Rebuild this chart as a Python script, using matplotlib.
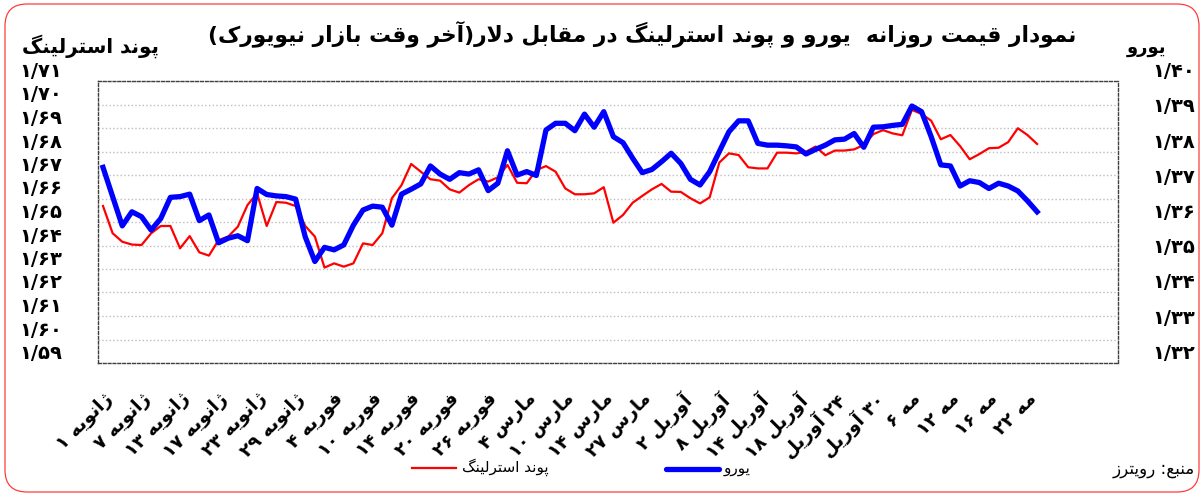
import re
import numpy as np
import matplotlib
matplotlib.use('Agg')
import matplotlib.pyplot as plt
from matplotlib.patches import FancyBboxPatch
from matplotlib.lines import Line2D
from matplotlib.transforms import IdentityTransform

plt.rcParams['font.family'] = ['DejaVu Sans']

# ---- data ----
pound = [1.6568, 1.6452, 1.6416, 1.6404, 1.6402, 1.6452, 1.6483, 1.6483, 1.6388, 1.6440,
         1.6371, 1.6357, 1.6423, 1.6438, 1.6480, 1.6572, 1.6622, 1.6483, 1.6585, 1.6582,
         1.6568, 1.6483, 1.6438, 1.6306, 1.6324, 1.6310, 1.6324, 1.6409, 1.6402, 1.6452,
         1.6601, 1.6657, 1.6747, 1.6714, 1.6682, 1.6676, 1.6639, 1.6625, 1.6657, 1.6682,
         1.6672, 1.6690, 1.6743, 1.6667, 1.6665, 1.6721, 1.6738, 1.6714, 1.6643, 1.6618,
         1.6618, 1.6622, 1.6648, 1.6497, 1.6530, 1.6582, 1.6611, 1.6639, 1.6662, 1.6629,
         1.6628, 1.6601, 1.6579, 1.6605, 1.6753, 1.6792, 1.6785, 1.6733, 1.6728, 1.6728,
         1.6795, 1.6795, 1.6792, 1.6799, 1.6821, 1.6784, 1.6804, 1.6804, 1.6809, 1.6828,
         1.6874, 1.6891, 1.6877, 1.6869, 1.6977, 1.6960, 1.6931, 1.6852, 1.6870, 1.6823,
         1.6767, 1.6789, 1.6814, 1.6816, 1.6840, 1.6899, 1.6870, 1.6832]

euro = [1.3755, 1.3672, 1.3589, 1.3629, 1.3615, 1.3577, 1.3610, 1.3670, 1.3672, 1.3679,
        1.3604, 1.3620, 1.3541, 1.3554, 1.3561, 1.3547, 1.3695, 1.3678, 1.3674, 1.3672,
        1.3665, 1.3558, 1.3488, 1.3528, 1.3521, 1.3535, 1.3591, 1.3634, 1.3645, 1.3642,
        1.3591, 1.3679, 1.3693, 1.3708, 1.3759, 1.3736, 1.3721, 1.3740, 1.3736, 1.3748,
        1.3689, 1.3710, 1.3802, 1.3733, 1.3743, 1.3732, 1.3861, 1.3880, 1.3880, 1.3859,
        1.3906, 1.3869, 1.3913, 1.3842, 1.3825, 1.3781, 1.3740, 1.3749, 1.3771, 1.3795,
        1.3766, 1.3721, 1.3705, 1.3743, 1.3800, 1.3856, 1.3887, 1.3887, 1.3823, 1.3818,
        1.3818, 1.3816, 1.3813, 1.3793, 1.3806, 1.3818, 1.3833, 1.3835, 1.3851, 1.3812,
        1.3869, 1.3870, 1.3874, 1.3877, 1.3929, 1.3913, 1.3842, 1.3762, 1.3759, 1.3702,
        1.3717, 1.3712, 1.3695, 1.3710, 1.3702, 1.3688, 1.3660, 1.3629]

x_labels = ['ژانویه ۱', 'ژانویه ۷', 'ژانویه ۱۳', 'ژانویه ۱۷', 'ژانویه ۲۳', 'ژانویه ۲۹',
            'فوریه ۴', 'فوریه ۱۰', 'فوریه ۱۴', 'فوریه ۲۰', 'فوریه ۲۶',
            'مارس ۴', 'مارس ۱۰', 'مارس ۱۴', 'مارس ۲۷',
            'آوریل ۲', 'آوریل ۸', 'آوریل ۱۴', 'آوریل ۱۸', '۲۴ آوریل', '۳۰ آوریل',
            'مه ۶', 'مه ۱۲', 'مه ۱۶', 'مه ۲۲']
label_step = 4

pound_ticks = [1.59, 1.60, 1.61, 1.62, 1.63, 1.64, 1.65, 1.66, 1.67, 1.68, 1.69, 1.70, 1.71]
euro_ticks = [1.32, 1.33, 1.34, 1.35, 1.36, 1.37, 1.38, 1.39, 1.40]

title = 'نمودار قیمت روزانه  یورو و پوند استرلینگ در مقابل دلار(آخر وقت بازار نیویورک)'
pound_name = 'پوند استرلینگ'
euro_name = 'یورو'
source = 'منبع: رویترز'

# ---- tiny arabic/persian shaper (matplotlib has no text shaping) ----
# letter: (isolated, final, initial, medial); None = does not join forward
FORMS = {
    'ا': ('\uFE8D', '\uFE8E', None, None),
    'آ': ('\uFE81', '\uFE82', None, None),
    'د': ('\uFEA9', '\uFEAA', None, None),
    'ر': ('\uFEAD', '\uFEAE', None, None),
    'ز': ('\uFEAF', '\uFEB0', None, None),
    'ژ': ('\uFB8A', '\uFB8B', None, None),
    'و': ('\uFEED', '\uFEEE', None, None),
    'ب': ('\uFE8F', '\uFE90', '\uFE91', '\uFE92'),
    'پ': ('\uFB56', '\uFB57', '\uFB58', '\uFB59'),
    'ت': ('\uFE95', '\uFE96', '\uFE97', '\uFE98'),
    'خ': ('\uFEA5', '\uFEA6', '\uFEA7', '\uFEA8'),
    'س': ('\uFEB1', '\uFEB2', '\uFEB3', '\uFEB4'),
    'ع': ('\uFEC9', '\uFECA', '\uFECB', '\uFECC'),
    'ف': ('\uFED1', '\uFED2', '\uFED3', '\uFED4'),
    'ق': ('\uFED5', '\uFED6', '\uFED7', '\uFED8'),
    'ک': ('\uFB8E', '\uFB8F', '\uFB90', '\uFB91'),
    'گ': ('\uFB92', '\uFB93', '\uFB94', '\uFB95'),
    'ل': ('\uFEDD', '\uFEDE', '\uFEDF', '\uFEE0'),
    'م': ('\uFEE1', '\uFEE2', '\uFEE3', '\uFEE4'),
    'ن': ('\uFEE5', '\uFEE6', '\uFEE7', '\uFEE8'),
    'ه': ('\uFEE9', '\uFEEA', '\uFEEB', '\uFEEC'),
    'ی': ('\uFBFC', '\uFBFD', '\uFBFE', '\uFBFF'),
}
LAM_ALEF = {'ا': ('\uFEFB', '\uFEFC'), 'آ': ('\uFEF5', '\uFEF6')}
DIGITS = '0123456789۰۱۲۳۴۵۶۷۸۹/'
MIRROR = str.maketrans('()', ')(')


def shape(text):
    res = []
    i = 0
    while i < len(text):
        c = text[i]
        if c not in FORMS:
            res.append(c)
            i += 1
            continue
        prev = text[i - 1] if i > 0 else ''
        joins_prev = prev in FORMS and FORMS[prev][2] is not None
        nxt = text[i + 1] if i + 1 < len(text) else ''
        if c == 'ل' and nxt in LAM_ALEF:
            res.append(LAM_ALEF[nxt][1] if joins_prev else LAM_ALEF[nxt][0])
            i += 2
            continue
        iso, fin, ini, med = FORMS[c]
        joins_next = ini is not None and nxt in FORMS
        if joins_prev and joins_next:
            res.append(med)
        elif joins_prev:
            res.append(fin)
        elif joins_next:
            res.append(ini)
        else:
            res.append(iso)
        i += 1
    return ''.join(res)


def fa(text):
    s = shape(text)
    runs = re.findall('[' + DIGITS + ']+|[^' + DIGITS + ']+', s)
    out = []
    for r in reversed(runs):
        if r[0] in DIGITS:
            out.append(r)
        else:
            out.append(r[::-1].translate(MIRROR))
    return ''.join(out)


def fa_num(v):
    return f'{v:.2f}'.replace('.', '/').translate(str.maketrans('0123456789', '۰۱۲۳۴۵۶۷۸۹'))


# ---- figure ----
W, H = 1202, 496
fig = plt.figure(figsize=(W / 100, H / 100), dpi=100)
fig.patch.set_facecolor('white')

# rounded red frame round the whole chart
frame = FancyBboxPatch((5, 4), 1194, 488, boxstyle='round,pad=0,rounding_size=22',
                       transform=IdentityTransform(), fill=False, edgecolor='#ff3b3b', lw=0.9)
fig.patches.append(frame)

ax = fig.add_axes([98 / W, 1 - 363 / H, 1020 / W, 282 / H])
x = np.arange(len(pound))
ax.plot(x, pound, color='#ff0000', lw=1.6, zorder=3)
ax.set_xlim(-0.52, 105.4)
ax.set_ylim(pound_ticks[0], pound_ticks[-1])
ax.set_yticks(pound_ticks)
ax.set_yticklabels([fa_num(v) for v in pound_ticks], fontsize=14, fontweight='bold')
for lab in ax.get_yticklabels():
    lab.set_va('bottom')
ax.tick_params(axis='y', length=0, pad=26)
ax.grid(axis='y', color='#bdbdbd', ls=':', lw=1)

ax.set_xticks(x[::label_step])
ax.set_xticklabels([fa(s) for s in x_labels], rotation=45, ha='right', va='top',
                   rotation_mode='anchor', fontsize=13.2, fontweight='bold')
ax.tick_params(axis='x', length=0, pad=19)

for sp in ax.spines.values():
    sp.set_color('#404040')
    sp.set_linestyle((0, (2, 1.5)))
    sp.set_linewidth(1)

ax2 = ax.twinx()
ax2.plot(x, euro, color='#0000ff', lw=3.8, zorder=4)
ax2.set_ylim(euro_ticks[0], euro_ticks[-1])
ax2.set_yticks(euro_ticks)
ax2.set_yticklabels([fa_num(v) for v in euro_ticks], fontsize=14, fontweight='bold')
for lab in ax2.get_yticklabels():
    lab.set_va('bottom')
ax2.tick_params(axis='y', length=0, pad=25)
for sp in ax2.spines.values():
    sp.set_visible(False)

# titles
fig.text(642 / W, 1 - 34 / H, fa(title), ha='center', va='center', fontsize=15.7, fontweight='bold')
fig.text(22 / W, 1 - 46 / H, fa(pound_name), ha='left', va='center', fontsize=14.2, fontweight='bold')
fig.text(1146 / W, 1 - 48 / H, fa(euro_name), ha='center', va='center', fontsize=13, fontweight='bold')

# legend, drawn by hand
fig.lines.append(Line2D([412 / W, 456 / W], [1 - 468 / H] * 2, transform=fig.transFigure,
                        color='#ff0000', lw=1.6))
fig.text(462 / W, 1 - 467 / H, fa(pound_name), ha='left', va='center', fontsize=11)
fig.lines.append(Line2D([666 / W, 719 / W], [1 - 469 / H] * 2, transform=fig.transFigure,
                        color='#0000ff', lw=3.8, solid_capstyle='round'))
fig.text(724 / W, 1 - 468 / H, fa(euro_name), ha='left', va='center', fontsize=11)
fig.text(1195 / W, 1 - 469 / H, fa(source), ha='right', va='center', fontsize=12)

fig.savefig('out.png', dpi=100)
